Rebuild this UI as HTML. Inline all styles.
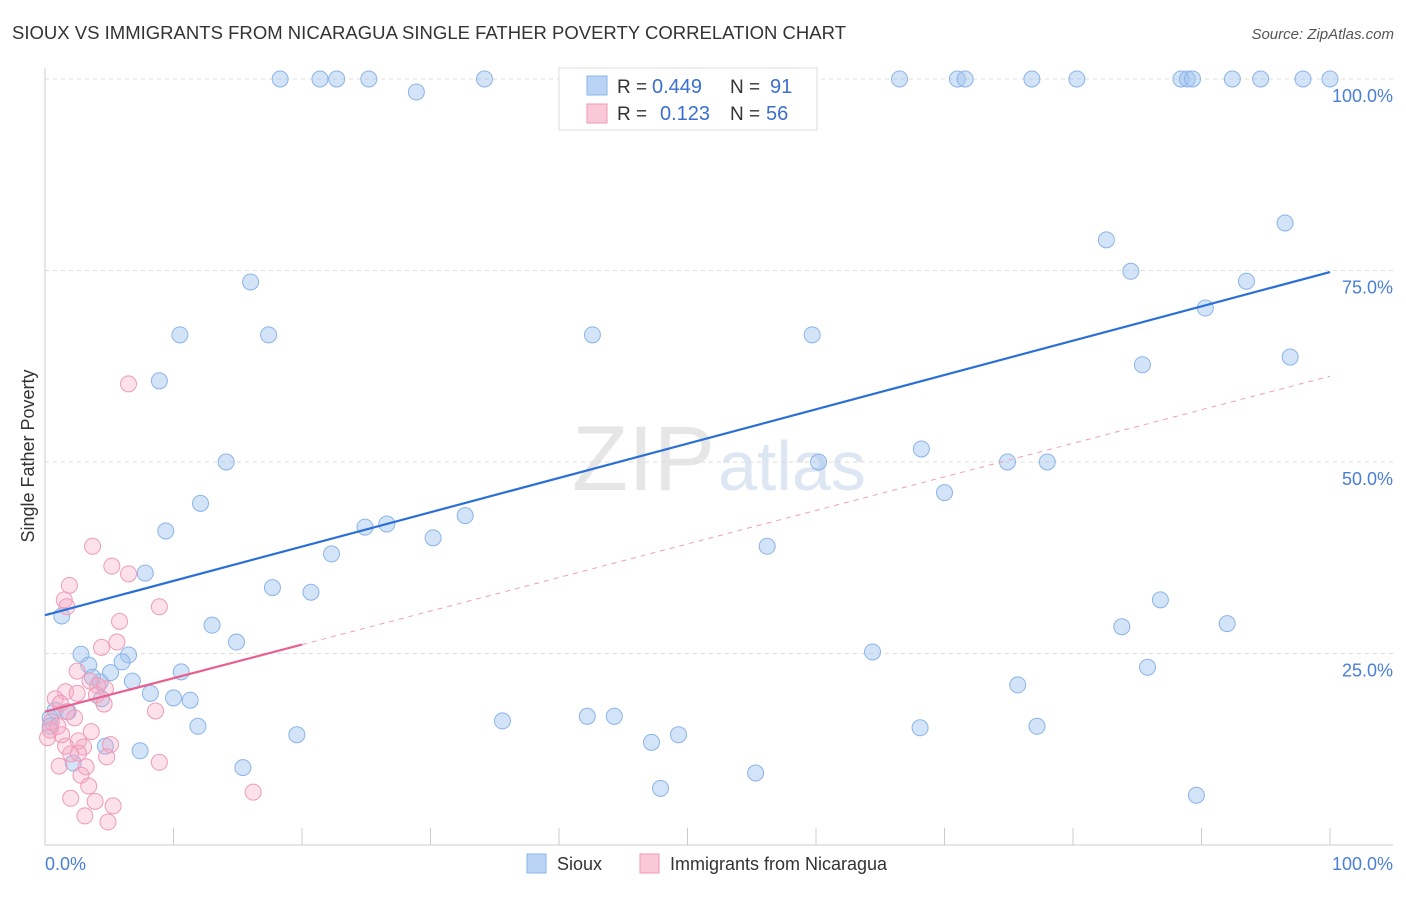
<!DOCTYPE html>
<html><head><meta charset="utf-8"><style>
body{margin:0;background:#fff;font-family:"Liberation Sans",sans-serif;}
svg text{font-family:"Liberation Sans",sans-serif;}
</style></head><body>
<svg id="chart" width="1406" height="892" xmlns="http://www.w3.org/2000/svg">
<text x="12" y="39" font-size="18.5" fill="#333" textLength="834">SIOUX VS IMMIGRANTS FROM NICARAGUA SINGLE FATHER POVERTY CORRELATION CHART</text>
<text x="1394" y="39" font-size="15" fill="#555" text-anchor="end" font-style="italic">Source: ZipAtlas.com</text>
<text x="715" y="490" font-size="92" fill="#e6e6e6" text-anchor="end" font-family="Liberation Serif">ZIP</text>
<text x="718" y="490" font-size="70" fill="#dde6f3">atlas</text>
<g id="grid"></g>
<g id="pts"></g>
<g id="lines"></g>
<text transform="translate(34,456) rotate(-90)" font-size="18" fill="#333" text-anchor="middle">Single Father Poverty</text>
<text x="45" y="870" font-size="18" fill="#4a7fd6">0.0%</text>
<text x="1393" y="870" font-size="18" fill="#4a7fd6" text-anchor="end">100.0%</text>
<g>
<rect x="559" y="68" width="258" height="62" fill="#fff" stroke="#ddd"/>
<rect x="587" y="76" width="20" height="19" fill="#b9d3f5" stroke="#8ab4e8"/>
<rect x="587" y="104" width="20" height="19" fill="#f9c9d8" stroke="#ee9ab8"/>
<text x="617" y="93" font-size="19" fill="#333">R =</text>
<text x="652" y="93" font-size="20" fill="#3a6fd1">0.449</text>
<text x="730" y="93" font-size="19" fill="#333">N =</text>
<text x="770" y="93" font-size="20" fill="#3a6fd1">91</text>
<text x="617" y="120" font-size="19" fill="#333">R =</text>
<text x="660" y="120" font-size="20" fill="#3a6fd1">0.123</text>
<text x="730" y="120" font-size="19" fill="#333">N =</text>
<text x="766" y="120" font-size="20" fill="#3a6fd1">56</text>
</g>
<g>
<rect x="527" y="854" width="19" height="19" fill="#b9d3f5" stroke="#8ab4e8"/>
<text x="557" y="870" font-size="18" fill="#333">Sioux</text>
<rect x="640" y="854" width="19" height="19" fill="#f9c9d8" stroke="#ee9ab8"/>
<text x="670" y="870" font-size="18" fill="#333">Immigrants from Nicaragua</text>
</g>
</svg>
<script>
const yTicks=[25,50,75,100];
const yTickLabels=["25.0%","50.0%","75.0%","100.0%"];
const xTicks=[0,10,20,30,40,50,60,70,80,90,100];
const siouxX=[18.3,21.4,22.7,25.2,28.9,34.2,52.0,66.5,71.0,71.6,76.8,80.3,88.4,88.9,89.3,92.4,94.6,97.9,100,82.6,96.5,84.5,93.5,90.3,96.9,85.4,16.0,10.5,17.4,42.6,59.7,8.9,14.1,12.1,9.4,68.2,60.2,74.9,78.0,70.0,32.7,24.9,26.6,30.2,22.3,56.2,7.8,17.7,20.7,1.3,13.0,14.9,86.8,83.8,92.0,64.4,2.8,6.5,3.4,6.0,5.1,10.6,3.7,6.8,4.3,8.2,10.0,11.3,4.4,85.8,75.7,0.8,1.8,0.4,11.9,35.6,42.2,44.3,68.1,77.2,19.6,47.2,49.3,7.4,4.7,15.4,55.3,2.2,47.9,89.6,0.4];
const siouxY=[100,100,100,100,98.3,100,100,100,100,100,100,100,100,100,100,100,100,100,100,79.0,81.2,74.9,73.6,70.1,63.7,62.7,73.5,66.6,66.6,66.6,66.6,60.6,50,44.6,41.0,51.7,50,50,50,46.0,43.0,41.5,41.9,40.1,38.0,39.0,35.5,33.6,33.0,29.9,28.7,26.5,32.0,28.5,28.9,25.2,24.9,24.8,23.5,23.9,22.5,22.6,21.9,21.4,21.3,19.8,19.2,18.9,19.1,23.2,20.9,17.6,17.4,16.6,15.5,16.2,16.8,16.8,15.3,15.5,14.4,13.4,14.4,12.3,12.9,10.1,9.4,10.7,7.4,6.5,15.5];
const nicX=[6.5,3.7,5.2,6.5,1.9,1.5,1.7,8.9,5.8,5.6,4.4,2.5,4.7,1.6,2.5,4.1,3.5,4.0,0.8,1.2,4.6,8.6,1.7,2.3,0.5,1.0,0.4,1.3,3.6,2.6,1.6,3.0,5.1,2.6,2.0,4.8,8.9,1.1,3.2,2.8,3.4,2.0,3.9,5.3,16.2,3.1,4.9,0.2];
const nicY=[60.2,39.0,36.4,35.4,33.9,32.0,31.1,31.1,29.2,26.5,25.8,22.7,20.4,20.0,19.8,20.8,21.4,19.6,19.1,18.5,18.4,17.5,17.4,16.6,16.1,15.5,15.0,14.4,14.8,13.6,12.9,12.8,13.1,12.0,11.9,11.5,10.8,10.3,10.2,9.1,7.7,6.1,5.7,5.1,6.9,3.8,3.0,14.0];
const siouxFit=[30.0,44.8]; // intercept, rise over full range
const nicFit=[17.4,43.8];
const X=v=>45+v*12.85, Y=v=>845-v*7.66;
const NS="http://www.w3.org/2000/svg";
function mk(t,a,p){const e=document.createElementNS(NS,t);for(const k in a)e.setAttribute(k,a[k]);p.appendChild(e);return e;}
const g=document.getElementById('grid');
const ax=mk('line',{x1:45,y1:68,x2:45,y2:845,stroke:'#ccc'},g);


const bx=mk('line',{x1:45,y1:845,x2:1393,y2:845,stroke:'#ccc'},g);


yTicks.forEach((t,i)=>{const l=mk('line',{x1:45,x2:1393,y1:Y(t),y2:Y(t),stroke:'#ddd','stroke-dasharray':'4,4'},g);


const tx=mk('text',{x:1393,y:Y(t)+23,'font-size':18,fill:'#4a7fd6','text-anchor':'end'},g);tx.textContent=yTickLabels[i];

});
xTicks.forEach(t=>{const l=mk('line',{x1:X(t),x2:X(t),y1:828,y2:845,stroke:'#ccc'},g);

});
const p=document.getElementById('pts');
siouxX.forEach((v,i)=>{const c=mk('circle',{cx:X(v),cy:Y(siouxY[i]),r:8,fill:'rgba(160,196,240,0.45)',stroke:'#8ab4e8','stroke-width':1},p);

});
nicX.forEach((v,i)=>{const c=mk('circle',{cx:X(v),cy:Y(nicY[i]),r:8,fill:'rgba(245,170,195,0.35)',stroke:'#ee9ab8','stroke-width':1},p);

});
const L=document.getElementById('lines');
const b=mk('line',{x1:X(0),y1:Y(siouxFit[0]),x2:X(100),y2:Y(siouxFit[0]+siouxFit[1]),stroke:'#2a6fd6','stroke-width':2.2},L);


const d=mk('line',{x1:X(20),y1:Y(nicFit[0]+nicFit[1]*0.2),x2:X(100),y2:Y(nicFit[0]+nicFit[1]),stroke:'#f0a0b8','stroke-width':1,'stroke-dasharray':'5,5'},L);


const s=mk('line',{x1:X(0),y1:Y(nicFit[0]),x2:X(20),y2:Y(nicFit[0]+nicFit[1]*0.2),stroke:'#e8608f','stroke-width':2.2},L);


</script>
</body></html>
